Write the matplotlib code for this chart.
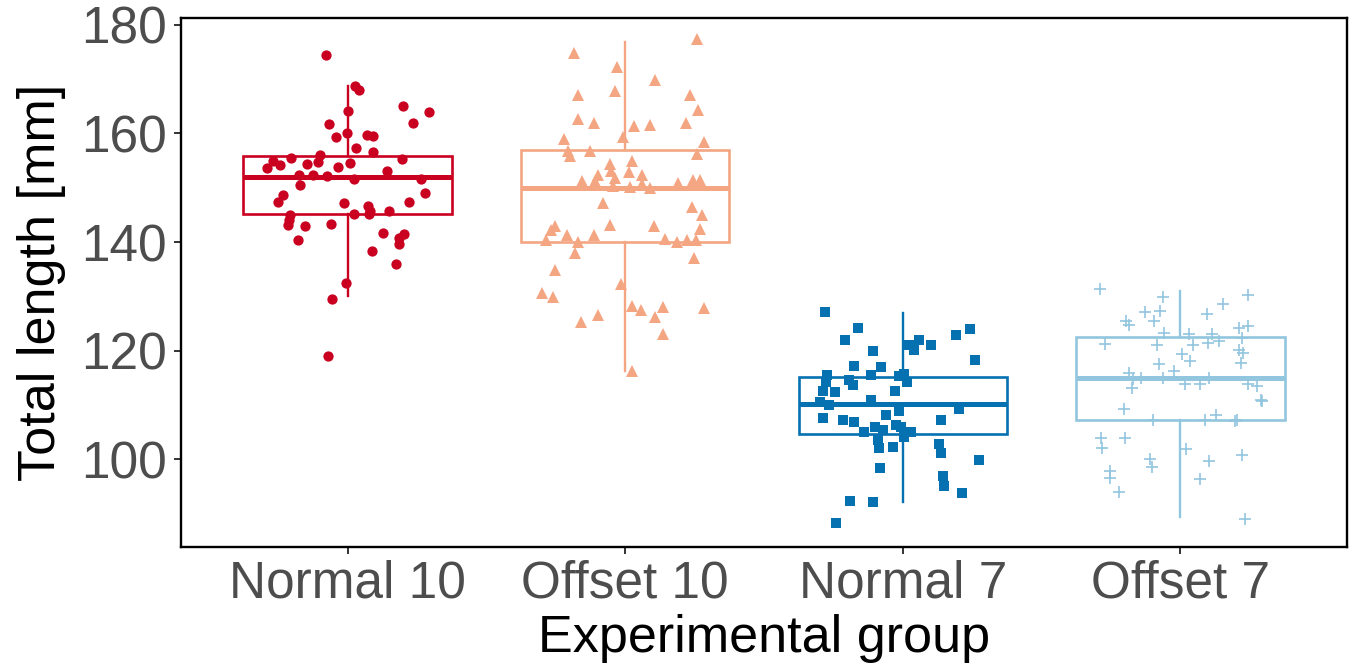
import matplotlib
matplotlib.use("Agg")
import matplotlib.pyplot as plt
import numpy as np

plt.rcParams['font.family'] = ['Liberation Sans', 'DejaVu Sans']

categories = ["Normal 10", "Offset 10", "Normal 7", "Offset 7"]
colors = ["#CA0020", "#F4A582", "#0571B0", "#92C5DE"]
markers = ["o", "^", "s", "+"]

# box statistics: (whisker low, q1, median, q3, whisker high)
box_stats = [
    (130.0, 145.1, 152.0, 155.9, 168.8),
    (116.2, 140.0, 150.0, 157.0, 176.8),
    (92.2, 104.7, 110.1, 115.1, 127.0),
    (89.3, 107.2, 115.0, 122.6, 130.9),
]

n10_vals = [174.5, 168.8, 168.0, 164.2, 165.0, 164.0, 161.9, 161.7, 159.3, 160.0,
            159.8, 159.6, 157.4, 156.6, 156.0, 155.0, 155.4, 153.6, 154.2, 154.3,
            154.7, 153.9, 154.6, 155.2, 153.1, 152.4, 152.4, 152.1, 151.6, 151.7,
            150.5, 149.0, 148.7, 147.3, 147.2, 147.3, 146.6, 145.8, 145.1, 145.1,
            145.7, 145.0, 144.0, 143.1, 142.9, 143.4, 141.7, 141.4, 140.8, 139.7,
            140.3, 138.3, 136.0, 132.4, 129.6, 119.0]
n10_jit = [-0.076, 0.025, 0.041, 0.001, 0.201, 0.294, 0.237, -0.068, -0.041, -0.001,
           0.069, 0.093, 0.032, 0.093, -0.100, -0.270, -0.205, -0.291, -0.244, -0.146,
           -0.106, -0.035, 0.007, 0.196, 0.141, -0.175, -0.124, -0.073, 0.022, 0.264,
           -0.170, 0.278, -0.232, -0.252, -0.012, 0.222, 0.073, 0.082, 0.078, 0.023,
           0.148, -0.208, -0.210, -0.216, -0.153, -0.058, 0.127, 0.204, 0.186, 0.186,
           -0.180, 0.087, 0.176, -0.006, -0.056, -0.071]

o10_vals = [177.4, 174.8, 172.2, 169.9, 167.9, 167.1, 167.1, 164.4, 162.7, 161.9,
            161.3, 161.6, 161.9, 159.3, 159.0, 158.4, 156.8, 155.9, 156.8, 156.3,
            154.3, 154.9, 153.0, 152.9, 152.4, 152.4, 151.3, 151.2, 151.8, 150.3,
            150.1, 150.7, 150.0, 150.9, 151.5, 151.5, 147.2, 146.4, 144.9, 143.2,
            143.0, 142.4, 142.9, 142.3, 141.3, 141.3, 140.3, 140.0, 140.6, 140.0,
            140.4, 140.3, 137.9, 137.1, 134.9, 132.2, 130.7, 129.9, 128.3, 127.4,
            128.1, 127.9, 126.2, 126.5, 125.3, 123.0, 116.2]
o10_jit = [0.257, -0.185, -0.028, 0.108, -0.036, -0.170, 0.235, 0.263, -0.170, -0.111,
           0.030, 0.090, 0.219, -0.009, -0.219, 0.283, -0.206, -0.200, -0.128, 0.257,
           -0.054, 0.024, -0.050, 0.015, 0.062, -0.099, -0.156, -0.110, -0.036, -0.044,
           0.018, 0.060, 0.090, 0.189, 0.245, 0.271, -0.080, 0.239, 0.278, -0.054,
           0.105, 0.269, -0.253, -0.269, -0.209, -0.114, -0.285, -0.170, 0.143, 0.187,
           0.221, 0.254, -0.179, 0.247, -0.253, -0.016, -0.301, -0.259, 0.024, 0.057,
           0.137, 0.283, 0.108, -0.099, -0.159, 0.137, 0.026]

n7_vals = [127.1, 124.2, 123.9, 122.8, 121.9, 121.9, 121.1, 120.2, 121.0, 119.9,
           118.3, 117.2, 116.9, 115.5, 115.5, 115.4, 115.7, 114.3, 114.6, 113.7,
           114.2, 112.5, 112.3, 112.5, 110.5, 110.0, 110.9, 108.9, 109.2, 107.6,
           107.2, 106.9, 108.2, 107.2, 106.4, 105.1, 106.0, 105.3, 105.9, 105.0,
           104.1, 103.5, 102.0, 102.2, 102.8, 101.2, 99.8, 98.3, 96.9, 95.1,
           93.7, 92.3, 92.1, 88.2]
n7_jit = [-0.282, -0.163, 0.243, 0.192, -0.207, 0.058, 0.022, 0.040, 0.103, -0.109,
          0.261, -0.175, -0.080, -0.273, -0.115, -0.014, 0.004, 0.016, -0.193, -0.181,
          -0.277, -0.289, -0.244, -0.028, -0.297, -0.265, -0.113, -0.014, 0.204, -0.289,
          -0.214, -0.175, -0.062, 0.139, -0.026, -0.139, -0.101, -0.070, -0.008, 0.028,
          0.006, -0.088, -0.085, -0.034, 0.130, 0.138, 0.275, -0.083, 0.145, 0.150,
          0.213, -0.191, -0.109, -0.241]

o7_vals = [131.3, 129.9, 130.2, 128.6, 127.2, 127.3, 126.7, 125.4, 124.8, 125.4,
           124.2, 124.5, 123.2, 123.1, 123.0, 122.4, 121.3, 121.0, 121.0, 121.4,
           121.7, 120.2, 119.6, 119.3, 118.1, 117.8, 117.5, 116.2, 115.8, 114.7,
           114.9, 114.9, 115.0, 113.2, 113.8, 113.9, 113.8, 113.5, 111.0, 110.7,
           109.2, 107.2, 107.2, 108.1, 107.0, 107.2, 104.0, 104.0, 102.0, 101.8,
           100.7, 100.1, 98.5, 99.7, 97.8, 96.5, 96.3, 93.9, 89.0]
o7_jit = [-0.289, -0.062, 0.243, 0.155, -0.127, -0.073, 0.097, -0.195, -0.187, -0.094,
          0.211, 0.243, -0.060, 0.032, 0.115, 0.220, -0.273, -0.084, 0.044, 0.100,
          0.139, 0.211, 0.227, 0.005, 0.035, 0.217, -0.076, -0.022, -0.184, -0.171,
          -0.142, -0.064, 0.103, -0.174, 0.017, 0.071, 0.243, 0.277, 0.289, 0.295,
          -0.205, -0.100, 0.089, 0.127, 0.196, 0.205, -0.287, -0.201, -0.282, 0.020,
          0.223, -0.109, -0.102, 0.103, -0.252, -0.255, 0.070, -0.222, 0.232]

values = [n10_vals, o10_vals, n7_vals, o7_vals]
jitters = [n10_jit, o10_jit, n7_jit, o7_jit]

yticks = [100, 120, 140, 160, 180]

W, H = 1363, 668
fig = plt.figure(figsize=(W / 100, H / 100), dpi=100)
ax = fig.add_axes([181 / W, 1 - 546.7 / H, (1347 - 181) / W, (546.7 - 18.3) / H])

positions = np.arange(1, len(categories) + 1)

msizes = [7.4, 8.8, 6.8, 8.4]
for i, (st, col) in enumerate(zip(box_stats, colors)):
    lo, q1, med, q3, hi = st
    bstat = [dict(whislo=lo, q1=q1, med=med, q3=q3, whishi=hi, fliers=[], label=categories[i])]
    ax.bxp(bstat, positions=[positions[i]], widths=0.75, showfliers=False,
           showcaps=False, patch_artist=True,
           boxprops=dict(facecolor="white", edgecolor=col, linewidth=1.9),
           medianprops=dict(color=col, linewidth=3.6, solid_capstyle="butt"),
           whiskerprops=dict(color=col, linewidth=1.7), zorder=2)

for i in range(len(categories)):
    xs = positions[i] + np.array(jitters[i])
    ys = np.array(values[i])
    if markers[i] == "+":
        ax.plot(xs, ys, linestyle="none", marker="+", markersize=msizes[i],
                markeredgewidth=1.2, color=colors[i], zorder=3)
    else:
        ax.plot(xs, ys, linestyle="none", marker=markers[i], markersize=msizes[i],
                markeredgewidth=0, color=colors[i], zorder=3)

ax.set_xlim(0.4, 4.6)
ax.set_ylim(83.9, 181.2)
ax.set_xticks(positions)
ax.set_xticklabels(categories)
ax.set_yticks(yticks)
ax.set_yticklabels([str(v) for v in yticks])

for s in ax.spines.values():
    s.set_linewidth(1.7)
    s.set_color("black")
ax.tick_params(axis="both", length=5, width=1.4, color="#333333",
               labelsize=37, labelcolor="#4D4D4D")
ax.tick_params(axis="y", pad=5)
ax.tick_params(axis="x", pad=4.5)

ax.set_xlabel("Experimental group", fontsize=37.5, color="black", labelpad=4)
ax.set_ylabel("Total length [mm]", fontsize=37.5, color="black", labelpad=11)

fig.savefig("out.png", dpi=100, facecolor="white")
